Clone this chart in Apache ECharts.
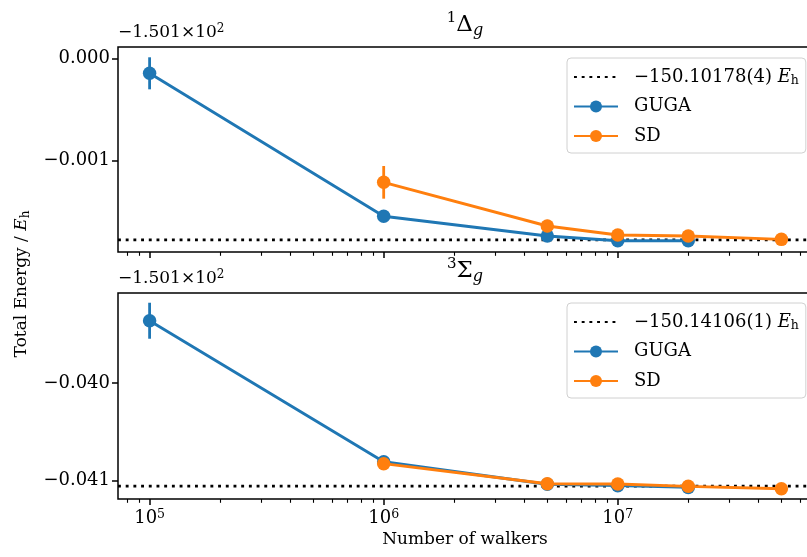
<!DOCTYPE html>
<html>
<head>
<meta charset="utf-8">
<script src="https://cdn.jsdelivr.net/npm/echarts@6/dist/echarts.min.js"></script>
<style>
  html, body { margin: 0; padding: 0; background: #fff; }
  #chart { width: 807px; height: 557px; }
</style>
</head>
<body>
<div id="chart"></div>
<script>
// number of walkers (x values)
const walkers = [1e5, 1e6, 5e6, 1e7, 2e7, 5e7];

// 1Δg : total energy + 150.1 (Eh)
const gugaDelta = [-0.000147, -0.001549, -0.001742, -0.001788, -0.001788, null];
const gugaDeltaErr = [0.000157, 0.00002, 0.00001, 0.00001, 0.00001, null];
const sdDelta = [null, -0.001216, -0.001644, -0.001732, -0.001742, -0.001775];
const sdDeltaErr = [null, 0.00016, 0.00006, 0.00002, 0.00001, 0.00001];
const refDelta = -0.00178;

// 3Σg : total energy + 150.1 (Eh)
const gugaSigma = [-0.03936, -0.040809, -0.04104, -0.041055, -0.041073, null];
const gugaSigmaErr = [0.000185, 0.00001, 0.00001, 0.00001, 0.00001, null];
const sdSigma = [null, -0.040829, -0.041035, -0.041038, -0.041062, -0.041086];
const sdSigmaErr = [null, 0.00001, 0.00001, 0.00001, 0.00001, 0.00001];
const refSigma = -0.04106;

// tick labels
const xMajor = [1e5, 1e6, 1e7];
const xMinor = [8e4, 9e4, 2e5, 3e5, 4e5, 5e5, 6e5, 7e5, 8e5, 9e5,
  2e6, 3e6, 4e6, 5e6, 6e6, 7e6, 8e6, 9e6, 2e7, 3e7, 4e7, 5e7, 6e7];
const yTicksDelta = [0, -0.001];
const yTicksSigma = [-0.040, -0.041];
const refNames = ['−150.10178(4) Eh', '−150.14106(1) Eh'];
const refLabels = {
  '−150.10178(4) Eh': '{n|−150.10178(4) }{i|E}{s|h}',
  '−150.14106(1) Eh': '{n|−150.14106(1) }{i|E}{s|h}',
};

const FONT = 'DejaVu Serif';
const BLUE = '#1f77b4';
const ORANGE = '#ff7f0e';
const xMin = Math.pow(10, 4.865);
const xMax = Math.pow(10, 7.834);

const grids = [
  { left: 118, top: 47, width: 695, height: 205 },
  { left: 118, top: 293, width: 695, height: 206 },
];
const yRanges = [
  [-0.001899, 0.000111],
  [-0.041192, -0.039075],
];

function pairs(ys) {
  const out = [];
  ys.forEach((y, i) => { if (y !== null) out.push([walkers[i], y]); });
  return out;
}
function errs(ys, es) {
  const out = [];
  ys.forEach((y, i) => { if (y !== null) out.push([walkers[i], y, es[i]]); });
  return out;
}

function errSeries(data, color, g) {
  return {
    type: 'custom',
    xAxisIndex: g * 2,
    yAxisIndex: g,
    z: color === BLUE ? 2 : 4,
    silent: true,
    data: data,
    renderItem(params, api) {
      const x = api.value(0), y = api.value(1), e = api.value(2);
      const p1 = api.coord([x, y - e]);
      const p2 = api.coord([x, y + e]);
      return {
        type: 'line',
        shape: { x1: p1[0], y1: p1[1], x2: p2[0], y2: p2[1] },
        style: { stroke: color, lineWidth: 2.8 },
      };
    },
  };
}

function lineSeries(name, data, color, g, z) {
  return {
    type: 'line',
    name: name,
    xAxisIndex: g * 2,
    yAxisIndex: g,
    data: data,
    z: z,
    symbol: 'circle',
    symbolSize: 13.5,
    color: color,
    itemStyle: { color: color },
    lineStyle: { color: color, width: 2.9 },
  };
}

function refSeries(name, value, g) {
  return {
    type: 'line',
    name: name,
    xAxisIndex: g * 2,
    yAxisIndex: g,
    data: [[xMin, value], [xMax, value]],
    symbol: 'none',
    z: 1,
    color: '#000',
    lineStyle: { color: '#000', width: 2.9, type: [2.9, 4.8] },
  };
}

const xAxes = [];
const yAxes = [];
grids.forEach((gr, g) => {
  xAxes.push({
    type: 'log', gridIndex: g, min: xMin, max: xMax, position: 'bottom',
    axisLine: { show: false, onZero: false }, splitLine: { show: false },
    axisTick: { show: true, customValues: xMajor, length: 6, lineStyle: { color: '#000', width: 1.5 } },
    axisLabel: {
      show: g === 1, customValues: xMajor, margin: 9,
      formatter: v => '{b|10}{p|' + Math.round(Math.log10(v)) + '}',
      rich: {
        b: { fontFamily: FONT, fontSize: 18, color: '#000', lineHeight: 20 },
        p: { fontFamily: FONT, fontSize: 12.5, color: '#000', lineHeight: 12, verticalAlign: 'top' },
      },
    },
  });
  xAxes.push({
    type: 'log', gridIndex: g, min: xMin, max: xMax, position: 'bottom',
    axisLine: { show: false, onZero: false }, splitLine: { show: false }, axisLabel: { show: false },
    axisTick: { show: true, customValues: xMinor, length: 3.8, lineStyle: { color: '#000', width: 1.1 } },
  });
  const ticks = g === 0 ? yTicksDelta : yTicksSigma;
  yAxes.push({
    type: 'value', gridIndex: g, min: yRanges[g][0], max: yRanges[g][1],
    axisLine: { show: false, onZero: false }, splitLine: { show: false },
    axisTick: { show: true, customValues: ticks, length: 6, lineStyle: { color: '#000', width: 1.5 } },
    axisLabel: {
      customValues: ticks, margin: 8, color: '#000', fontFamily: FONT, fontSize: 18,
      formatter: v => (v < 0 ? '−' : '') + Math.abs(v).toFixed(3),
    },
  });
});

function legendFor(g, top) {
  return {
    data: [{ name: refNames[g], itemStyle: { opacity: 0 } }, 'GUGA', 'SD'],
    orient: 'vertical',
    left: 567,
    top: top,
    padding: [9, 7, 7, 6],
    itemGap: 9.5,
    itemWidth: 44,
    itemHeight: 15,
    backgroundColor: 'rgba(255,255,255,0.8)',
    borderColor: '#d0d0d0',
    borderWidth: 1,
    borderRadius: 4,
    selectedMode: false,
    formatter: name => refLabels[name] || '{n|' + name + '}',
    textStyle: {
      color: '#000', fontFamily: FONT, fontSize: 18, lineHeight: 20,
      padding: [0, 0, 0, 11],
      rich: {
        n: { fontFamily: FONT, fontSize: 18, color: '#000', lineHeight: 20 },
        i: { fontFamily: FONT, fontSize: 18, color: '#000', fontStyle: 'italic', lineHeight: 20 },
        s: { fontFamily: FONT, fontSize: 12.5, color: '#000', lineHeight: 12, verticalAlign: 'bottom' },
      },
    },
  };
}

const supRich = {
  m: { fontFamily: FONT, fontSize: 17, fill: '#000', lineHeight: 20 },
  p: { fontFamily: FONT, fontSize: 12, fill: '#000', lineHeight: 12, verticalAlign: 'top' },
};
const titleRich = {
  m: { fontFamily: FONT, fontSize: 23, fill: '#000', lineHeight: 28 },
  mi: { fontFamily: FONT, fontSize: 16, fill: '#000', fontStyle: 'italic', lineHeight: 16, verticalAlign: 'bottom' },
  p: { fontFamily: FONT, fontSize: 15, fill: '#000', lineHeight: 15, verticalAlign: 'top' },
};

const graphics = [];
const titles = ['{p|1}{m|Δ}{mi|g}', '{p|3}{m|Σ}{mi|g}'];
grids.forEach((gr, g) => {
  graphics.push({
    type: 'text', x: gr.left, y: gr.top - 14,
    style: { text: '{m|−1.501×10}{p|2}', rich: supRich, align: 'left', verticalAlign: 'middle' },
  });
  graphics.push({
    type: 'text', x: 465, y: gr.top - 22,
    style: { text: titles[g], rich: titleRich, align: 'center', verticalAlign: 'middle' },
  });
});
graphics.push({
  type: 'text', x: 22, y: 284, rotation: Math.PI / 2,
  style: {
    text: '{m|Total Energy / }{i|E}{s|h}',
    rich: {
      m: { fontFamily: FONT, fontSize: 17, fill: '#000', lineHeight: 20 },
      i: { fontFamily: FONT, fontSize: 17, fill: '#000', fontStyle: 'italic', lineHeight: 20 },
      s: { fontFamily: FONT, fontSize: 12, fill: '#000', lineHeight: 12, verticalAlign: 'bottom' },
    },
    align: 'center', verticalAlign: 'middle',
  },
});
graphics.push({
  type: 'text', x: 465, y: 540,
  style: { text: 'Number of walkers', fontFamily: FONT, fontSize: 17, fill: '#000', align: 'center', verticalAlign: 'middle' },
});

const option = {
  animation: false,
  backgroundColor: '#fff',
  grid: grids.map(gr => Object.assign({
    show: true, borderColor: '#000', borderWidth: 1.5, backgroundColor: 'transparent',
    outerBoundsMode: 'none', containLabel: false,
  }, gr)),
  xAxis: xAxes,
  yAxis: yAxes,
  legend: [legendFor(0, 58), legendFor(1, 303)],
  graphic: graphics,
  series: [
    refSeries(refNames[0], refDelta, 0),
    errSeries(errs(gugaDelta, gugaDeltaErr), BLUE, 0),
    lineSeries('GUGA', pairs(gugaDelta), BLUE, 0, 3),
    errSeries(errs(sdDelta, sdDeltaErr), ORANGE, 0),
    lineSeries('SD', pairs(sdDelta), ORANGE, 0, 5),
    refSeries(refNames[1], refSigma, 1),
    errSeries(errs(gugaSigma, gugaSigmaErr), BLUE, 1),
    lineSeries('GUGA', pairs(gugaSigma), BLUE, 1, 3),
    errSeries(errs(sdSigma, sdSigmaErr), ORANGE, 1),
    lineSeries('SD', pairs(sdSigma), ORANGE, 1, 5),
  ],
};

const chart = echarts.init(document.getElementById('chart'));
chart.setOption(option);
</script>
</body>
</html>
